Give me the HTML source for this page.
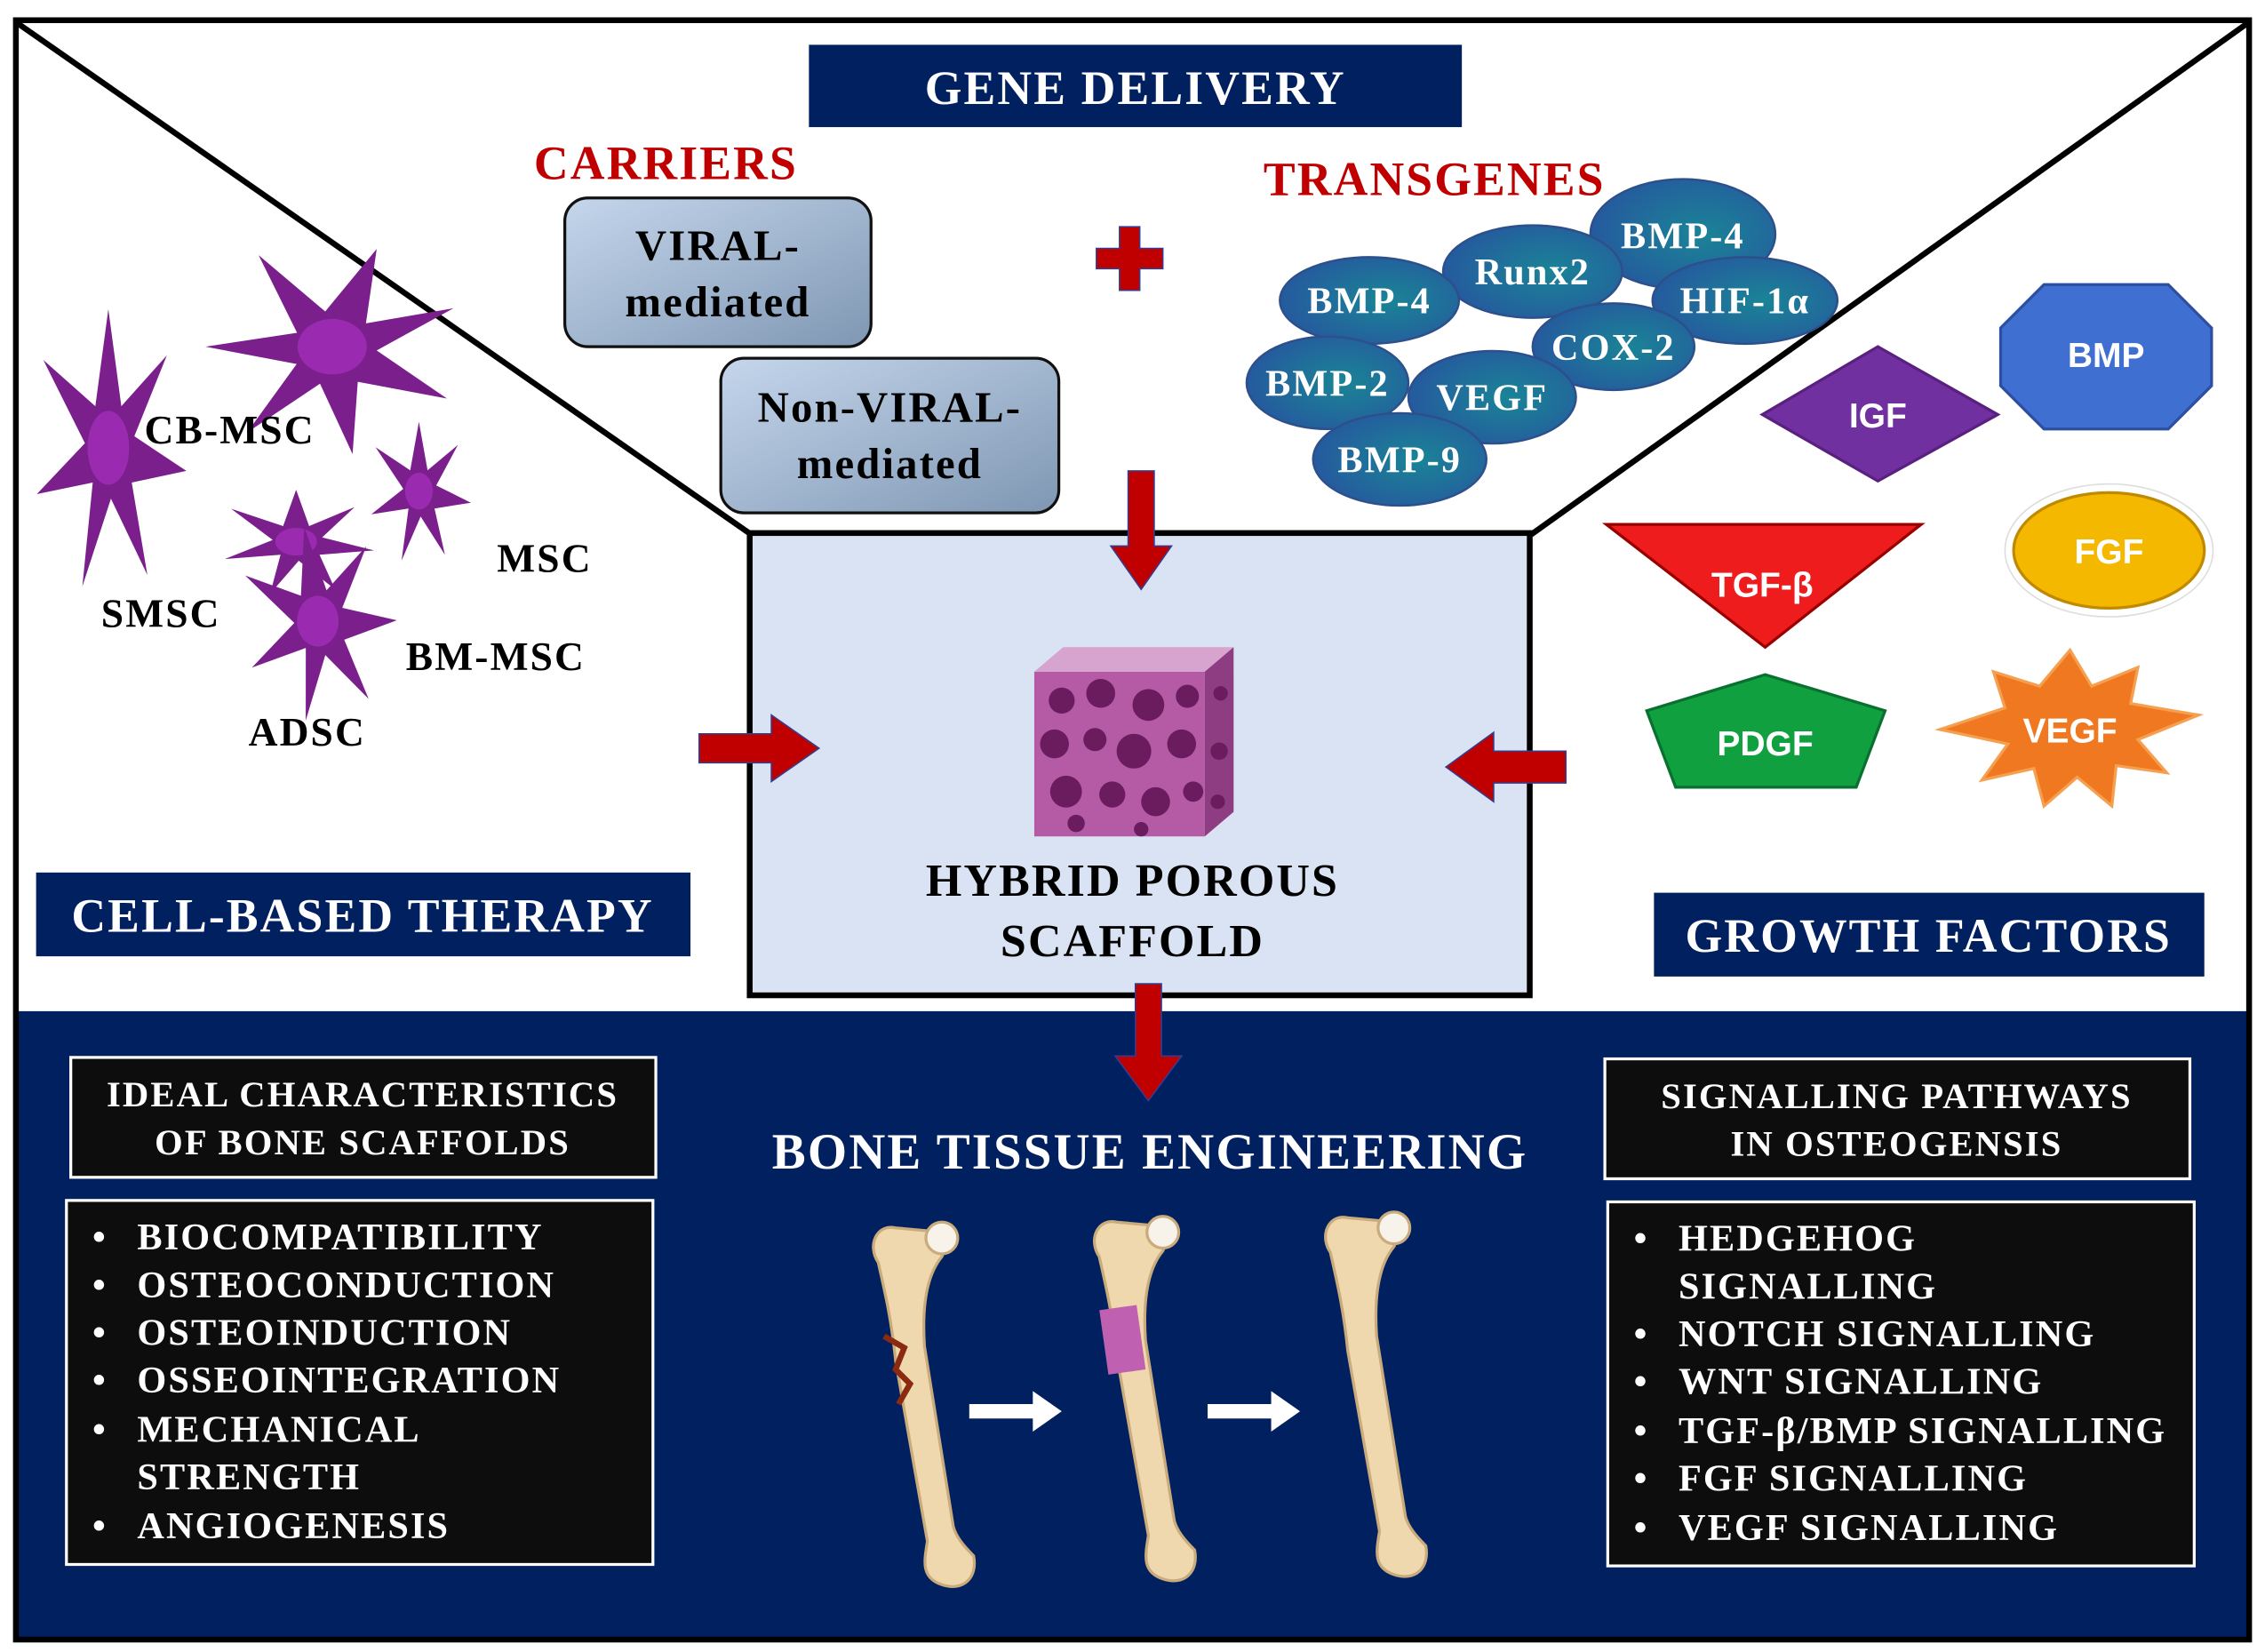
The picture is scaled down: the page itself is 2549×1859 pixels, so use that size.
<!DOCTYPE html>
<html><head><meta charset="utf-8"><style>
html,body{margin:0;padding:0;background:#fff}
svg{display:block}
text{font-family:"Liberation Serif",serif;font-weight:bold;letter-spacing:1.3px}
.s{font-family:"Liberation Sans",sans-serif;letter-spacing:0}
</style></head><body>
<svg width="2549" height="1859" viewBox="0 0 1568 1143.6" preserveAspectRatio="none" xmlns="http://www.w3.org/2000/svg">
<defs>
<linearGradient id="bx" x1="0" y1="0" x2="1" y2="1"><stop offset="0" stop-color="#c5d6ec"/><stop offset="1" stop-color="#7f97b3"/></linearGradient>
<radialGradient id="el" cx="0.6" cy="0.5" r="0.6"><stop offset="0" stop-color="#1a8496"/><stop offset="1" stop-color="#255a9e"/></radialGradient>
<g id="cell"><path d="M0,-60 L10,-18 L45,-40 L20,-5 L60,10 L18,15 L30,55 L2,22 L-20,60 L-12,15 L-55,20 L-18,-2 L-50,-38 L-10,-18 Z" fill="#7a1f8c"/><circle r="16" fill="#9a2ab0"/></g>
<g id="bone" fill="#efd7ae" stroke="#c9ab7c" stroke-width="2"><path d="M8,-2 C-5,-5 -12,10 -4,22 C0,40 5,60 8,90 L30,215 C28,228 25,240 40,245 C55,250 65,240 62,225 C55,218 50,212 48,205 L28,80 C26,50 30,30 40,18 C45,8 40,0 30,0 Z"/><circle cx="40" cy="5" r="11" fill="#f7f2ea"/></g>
</defs>
<rect x="0" y="0" width="1568" height="1144" fill="#fff"/>
<rect x="12" y="700" width="1544" height="434" fill="#002060"/>
<rect x="11" y="14" width="1546" height="1121" fill="none" stroke="#000" stroke-width="4"/>
<line x1="12" y1="16" x2="520" y2="370" stroke="#000" stroke-width="4"/>
<line x1="1556" y1="16" x2="1060" y2="370" stroke="#000" stroke-width="4"/>
<rect x="519" y="369" width="540" height="320" fill="#dae3f3" stroke="#000" stroke-width="4"/>
<rect x="560" y="31" width="452" height="57" fill="#002060"/>
<text x="786" y="72" text-anchor="middle" font-size="33" fill="#fff">GENE DELIVERY</text>
<text x="461" y="124" text-anchor="middle" font-size="33" fill="#c00000">CARRIERS</text>
<text x="993" y="135" text-anchor="middle" font-size="33" fill="#c00000">TRANSGENES</text>
<rect x="391" y="137" width="212" height="103" rx="16" fill="url(#bx)" stroke="#111" stroke-width="2"/>
<text x="497" y="180" text-anchor="middle" font-size="30">VIRAL-</text>
<text x="497" y="219" text-anchor="middle" font-size="30">mediated</text>
<rect x="499" y="248" width="234" height="107" rx="16" fill="url(#bx)" stroke="#111" stroke-width="2"/>
<text x="616" y="292" text-anchor="middle" font-size="30">Non-VIRAL-</text>
<text x="616" y="331" text-anchor="middle" font-size="30">mediated</text>
<path d="M775,157 h14 v15 h16 v14 h-16 v15 h-14 v-15 h-16 v-14 h16 z" fill="#c00000" stroke="#3a3a8a" stroke-width="1"/>
<g stroke="#2d4f8a" stroke-width="1.5" fill="url(#el)">
<ellipse cx="1165" cy="162" rx="64" ry="38"/><ellipse cx="1208" cy="208" rx="64" ry="30"/>
<ellipse cx="1061" cy="188" rx="62" ry="32"/><ellipse cx="1117" cy="240" rx="56" ry="30"/>
<ellipse cx="948" cy="208" rx="62" ry="30"/><ellipse cx="1033" cy="275" rx="58" ry="32"/>
<ellipse cx="919" cy="265" rx="56" ry="32"/><ellipse cx="969" cy="318" rx="60" ry="32"/>
</g>
<g fill="#fff" font-size="26" text-anchor="middle">
<text x="1165" y="172">BMP-4</text><text x="1208" y="217">HIF-1α</text><text x="1061" y="197">Runx2</text><text x="1117" y="249">COX-2</text>
<text x="948" y="217">BMP-4</text><text x="1033" y="284">VEGF</text><text x="919" y="274">BMP-2</text><text x="969" y="327">BMP-9</text>
</g>
<g fill="#c00000" stroke="#3a3a8a" stroke-width="1">
<path d="M781,326 h18 v52 h12 l-21,30 l-21,-30 h12 z"/>
<path d="M484,508 h50 v-13 l33,23 l-33,23 v-13 h-50 z"/>
<path d="M1084,520 h-50 v-13 l-33,24 l33,24 v-13 h50 z"/>
<path d="M786,681 h18 v50 h14 l-23,31 l-23,-31 h14 z"/>
</g>
<g>
<rect x="716" y="465" width="118" height="114" fill="#b55aa5"/>
<path d="M716,465 l20,-17 h118 l-20,17 z" fill="#d7a3cf"/>
<path d="M834,465 l20,-17 v114 l-20,17 z" fill="#8f3d83"/>
<g fill="#6a1c5e">
<circle cx="735" cy="485" r="9"/><circle cx="762" cy="480" r="10"/><circle cx="795" cy="488" r="11"/><circle cx="822" cy="482" r="8"/>
<circle cx="730" cy="515" r="10"/><circle cx="758" cy="512" r="8"/><circle cx="785" cy="520" r="12"/><circle cx="818" cy="515" r="10"/>
<circle cx="738" cy="548" r="11"/><circle cx="770" cy="550" r="9"/><circle cx="800" cy="555" r="10"/><circle cx="826" cy="548" r="7"/>
<circle cx="745" cy="570" r="6"/><circle cx="790" cy="574" r="5"/><circle cx="845" cy="480" r="5"/><circle cx="844" cy="520" r="6"/><circle cx="843" cy="555" r="5"/>
</g></g>
<text x="784" y="620" text-anchor="middle" font-size="32">HYBRID POROUS</text>
<text x="784" y="662" text-anchor="middle" font-size="32">SCAFFOLD</text>
<use href="#cell" transform="translate(230,240) scale(1.5,1.2) rotate(20)"/>
<use href="#cell" transform="translate(75,310) scale(0.9,1.6)"/>
<use href="#cell" transform="translate(290,340) scale(0.6,0.8)"/>
<use href="#cell" transform="translate(205,375) scale(0.9,0.6)"/>
<use href="#cell" transform="translate(220,430) scale(0.9,1.1) rotate(-10)"/>
<g font-size="28">
<text x="100" y="307">CB-MSC</text><text x="344" y="396">MSC</text><text x="70" y="434">SMSC</text><text x="281" y="464">BM-MSC</text><text x="172" y="516">ADSC</text>
</g>
<rect x="25" y="604" width="453" height="58" fill="#002060"/>
<text x="251" y="645" text-anchor="middle" font-size="33" fill="#fff">CELL-BASED THERAPY</text>
<rect x="1145" y="618" width="381" height="58" fill="#002060"/>
<text x="1335" y="659" text-anchor="middle" font-size="33" fill="#fff">GROWTH FACTORS</text>
<path d="M1220,287 L1300,240 L1383,287 L1300,333 Z" fill="#7030a0" stroke="#5a2080" stroke-width="2"/>
<text class="s" x="1300" y="296" text-anchor="middle" font-size="24" fill="#fff">IGF</text>
<path d="M1415,197 h86 l30,30 v40 l-30,30 h-86 l-30,-30 v-40 z" fill="#3f6fd0" stroke="#2c4fa0" stroke-width="2"/>
<text class="s" x="1458" y="254" text-anchor="middle" font-size="24" fill="#fff">BMP</text>
<path d="M1112,363 h218 l-108,85 z" fill="#ee1c1c" stroke="#900" stroke-width="2"/>
<text class="s" x="1220" y="413" text-anchor="middle" font-size="24" fill="#fff">TGF-β</text>
<ellipse cx="1460" cy="381" rx="72" ry="46" fill="#fff" stroke="#ddd"/>
<ellipse cx="1460" cy="381" rx="66" ry="40" fill="#f5b800" stroke="#c08a00" stroke-width="2"/>
<text class="s" x="1460" y="390" text-anchor="middle" font-size="24" fill="#fff">FGF</text>
<path d="M1222,467 L1305,492 L1285,545 H1160 L1140,492 Z" fill="#10a040" stroke="#0a7030" stroke-width="2"/>
<text class="s" x="1222" y="523" text-anchor="middle" font-size="24" fill="#fff">PDGF</text>
<path d="M1433,450 L1448,475 L1480,462 L1475,487 L1522,495 L1480,512 L1500,535 L1465,530 L1462,558 L1438,538 L1415,558 L1408,532 L1372,540 L1390,515 L1343,505 L1388,490 L1380,465 L1412,475 Z" fill="#f07820" stroke="#f5a050" stroke-width="2"/>
<text class="s" x="1433" y="514" text-anchor="middle" font-size="24" fill="#fff">VEGF</text>
<text x="796" y="809" text-anchor="middle" font-size="35" fill="#fff">BONE TISSUE ENGINEERING</text>
<rect x="49" y="732" width="405" height="83" fill="#0d0d0d" stroke="#fff" stroke-width="2"/>
<text x="251" y="766" text-anchor="middle" font-size="25" fill="#fff">IDEAL CHARACTERISTICS</text>
<text x="251" y="799" text-anchor="middle" font-size="25" fill="#fff">OF BONE SCAFFOLDS</text>
<rect x="46" y="831" width="406" height="252" fill="#0d0d0d" stroke="#fff" stroke-width="2"/>
<g fill="#fff" font-size="26">
<text x="64" y="865">•</text><text x="95" y="865">BIOCOMPATIBILITY</text>
<text x="64" y="898">•</text><text x="95" y="898">OSTEOCONDUCTION</text>
<text x="64" y="931">•</text><text x="95" y="931">OSTEOINDUCTION</text>
<text x="64" y="964">•</text><text x="95" y="964">OSSEOINTEGRATION</text>
<text x="64" y="998">•</text><text x="95" y="998">MECHANICAL</text>
<text x="95" y="1031">STRENGTH</text>
<text x="64" y="1065">•</text><text x="95" y="1065">ANGIOGENESIS</text>
</g>
<rect x="1111" y="733" width="405" height="83" fill="#0d0d0d" stroke="#fff" stroke-width="2"/>
<text x="1313" y="767" text-anchor="middle" font-size="25" fill="#fff">SIGNALLING PATHWAYS</text>
<text x="1313" y="800" text-anchor="middle" font-size="25" fill="#fff">IN OSTEOGENSIS</text>
<rect x="1113" y="832" width="406" height="252" fill="#0d0d0d" stroke="#fff" stroke-width="2"/>
<g fill="#fff" font-size="26">
<text x="1131" y="866">•</text><text x="1162" y="866">HEDGEHOG</text>
<text x="1162" y="899">SIGNALLING</text>
<text x="1131" y="932">•</text><text x="1162" y="932">NOTCH SIGNALLING</text>
<text x="1131" y="965">•</text><text x="1162" y="965">WNT SIGNALLING</text>
<text x="1131" y="999">•</text><text x="1162" y="999">TGF-β/BMP SIGNALLING</text>
<text x="1131" y="1032">•</text><text x="1162" y="1032">FGF SIGNALLING</text>
<text x="1131" y="1066">•</text><text x="1162" y="1066">VEGF SIGNALLING</text>
</g>
<use href="#bone" transform="translate(612,852)"/>
<use href="#bone" transform="translate(765,848)"/>
<use href="#bone" transform="translate(925,845)"/>
<path d="M612,925 l14,8 l-6,15 l10,10 l-8,14" stroke="#8a2a10" stroke-width="4" fill="none"/>
<rect x="764" y="905" width="26" height="45" fill="#c060b0" transform="rotate(-8 777 927)"/>
<g fill="#fff">
<path d="M671,972 h44 v-9 l20,14 l-20,14 v-9 h-44 z"/>
<path d="M836,972 h44 v-9 l20,14 l-20,14 v-9 h-44 z"/>
</g>
</svg>
</body></html>
